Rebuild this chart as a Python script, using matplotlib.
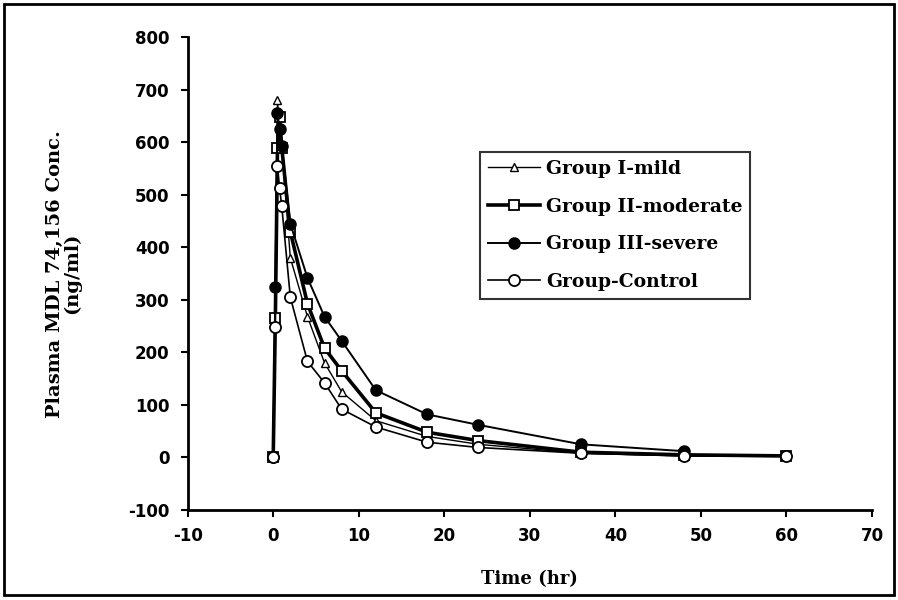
import numpy as np
import matplotlib.pyplot as plt

plt.rcParams['font.family'] = ['DejaVu Serif']
plt.rcParams['axes.unicode_minus'] = False

time = [0, 0.25, 0.5, 0.75, 1, 2, 4, 6, 8, 12, 18, 24, 36, 48, 60]
mild = [0, 260, 680, 625, 590, 380, 268, 180, 125, 70, 40, 25, 8, 3, 2]
moderate = [0, 265, 590, 648, 590, 430, 293, 208, 165, 85, 48, 32, 10, 5, 3]
severe = [0, 325, 655, 625, 592, 445, 342, 268, 222, 128, 82, 62, 25, 12]
control = [0, 248, 555, 512, 478, 305, 183, 142, 92, 58, 29, 19, 8, 3, 2]

labels = ['Group I-mild', 'Group II-moderate', 'Group III-severe', 'Group-Control']

fig = plt.figure(figsize=(8.98, 6.0), dpi=100)
ax = fig.add_axes([0.209, 0.15, 0.762, 0.788])

ax.plot(time, mild, '-^', color='black', lw=1.0, ms=6, mfc='white', mew=1.0, label=labels[0])
ax.plot(time, moderate, '-s', color='black', lw=2.6, ms=7, mfc='white', mew=1.3, label=labels[1])
ax.plot(time[:len(severe)], severe, '-o', color='black', lw=1.4, ms=8, mfc='black', label=labels[2])
ax.plot(time, control, '-o', color='black', lw=1.2, ms=8, mfc='white', mew=1.3, label=labels[3])

ax.set_xlim(-10, 70)
ax.set_ylim(-100, 800)
ax.set_xticks(np.arange(-10, 71, 10))
ax.set_yticks(np.arange(-100, 801, 100))
ax.spines['top'].set_visible(False)
ax.spines['right'].set_visible(False)
ax.spines['left'].set_linewidth(2)
ax.spines['bottom'].set_linewidth(2)
ax.tick_params(direction='out', width=1.5, length=5, labelsize=12)
ax.tick_params(axis='x', pad=7)
ax.tick_params(axis='y', pad=8)
for t in ax.get_xticklabels() + ax.get_yticklabels():
    t.set_fontweight('bold')
    t.set_family(['DejaVu Sans'])

ax.set_xlabel('Time (hr)', fontsize=13, fontweight='bold', labelpad=18)
ax.set_ylabel('Plasma MDL 74,156 Conc.\n(ng/ml)', fontsize=14, fontweight='bold',
              labelpad=34, linespacing=0.9)

leg = ax.legend(loc='upper left', bbox_to_anchor=(0.414, 0.776), fontsize=13.5,
                frameon=True, fancybox=False, edgecolor='black', handlelength=2.8,
                handletextpad=0.3, labelspacing=1.05, borderpad=0.4)
leg.get_frame().set_linewidth(1.5)
for t in leg.get_texts():
    t.set_fontweight('bold')

fig.patches.append(plt.Rectangle((0.005, 0.008), 0.99, 0.985, transform=fig.transFigure,
                                 fill=False, edgecolor='black', lw=2))

fig.savefig('out.png', dpi=100)
